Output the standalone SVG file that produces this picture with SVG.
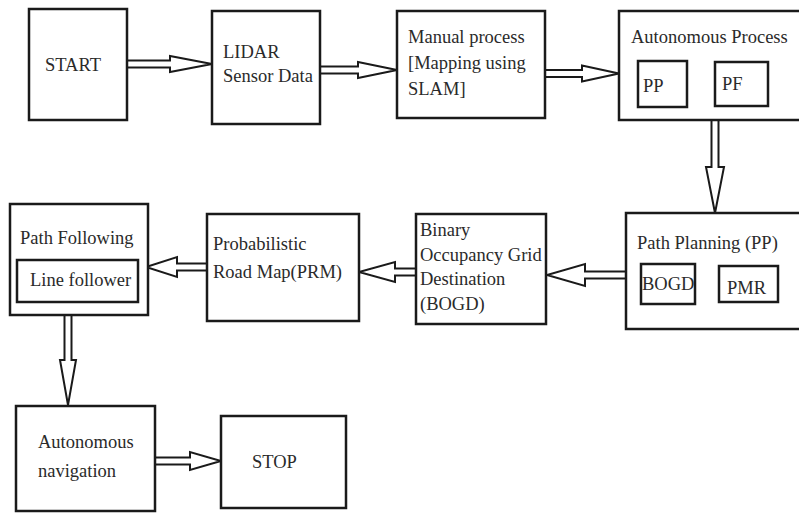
<svg xmlns="http://www.w3.org/2000/svg" width="799" height="513" viewBox="0 0 799 513">
<style>
.box{fill:#fff;stroke:#1a1a1a;stroke-width:2.5}
.t{font-family:"Liberation Serif","Times New Roman",serif;font-size:18.5px;fill:#2a2a2a}
.arr{fill:#fff;stroke:#1a1a1a;stroke-width:2;stroke-linejoin:miter}
</style>
<rect width="799" height="513" fill="#fff"/>
<g id="connectors">
<polygon class="arr" points="127,60.5 170,60.5 170,56 212,64 170,72 170,67.5 127,67.5"/>
<polygon class="arr" points="320,66.5 358,66.5 358,62 397,70 358,78 358,73.5 320,73.5"/>
<polygon class="arr" points="545,70 582,70 582,65.5 619,73.5 582,81.5 582,77 545,77"/>
<polygon class="arr" points="711.5,120 711.5,167 706,167 715,213 724,167 718.5,167 718.5,120"/>
<polygon class="arr" points="626,271.5 585,271.5 585,264 547,275 585,286 585,278.5 626,278.5"/>
<polygon class="arr" points="416,268.5 395,268.5 395,262 359,272 395,282 395,275.5 416,275.5"/>
<polygon class="arr" points="207,263.5 177,263.5 177,257 146,267 177,277 177,270.5 207,270.5"/>
<polygon class="arr" points="64.5,315 64.5,360 60,360 68,405 76,360 71.5,360 71.5,315"/>
<polygon class="arr" points="155,457.5 190,457.5 190,452 221,461 190,470 190,464.5 155,464.5"/>
</g>
<g id="start"><rect class="box" x="29" y="9" width="98" height="111"/><text class="t" x="45" y="71" font-size="19.5">START</text></g>
<g id="lidar"><rect class="box" x="212" y="11" width="108" height="113"/><text class="t" x="223" y="58">LIDAR</text><text class="t" x="223" y="82">Sensor Data</text></g>
<g id="manual"><rect class="box" x="397" y="11" width="148" height="107"/><text class="t" x="408" y="43">Manual process</text><text class="t" x="408" y="69">[Mapping using</text><text class="t" x="408" y="95">SLAM]</text></g>
<g id="autonomous-process"><rect class="box" x="619" y="11" width="182" height="109"/><text class="t" x="631" y="43">Autonomous Process</text>
<g id="pp"><rect class="box" x="638" y="61" width="49" height="46"/><text class="t" x="643" y="92">PP</text></g>
<g id="pf"><rect class="box" x="715" y="62" width="53" height="44"/><text class="t" x="722" y="90">PF</text></g></g>
<g id="path-planning"><rect class="box" x="626" y="213" width="175" height="116"/><text class="t" x="637" y="249">Path Planning (PP)</text>
<g id="bogd-sub"><rect class="box" x="641" y="264" width="54" height="40"/><text class="t" x="642" y="290">BOGD</text></g>
<g id="pmr"><rect class="box" x="719" y="266" width="59" height="36"/><text class="t" x="727" y="294">PMR</text></g></g>
<g id="bogd"><rect class="box" x="416" y="214" width="130" height="110"/><text class="t" x="420" y="236">Binary</text><text class="t" x="420" y="261">Occupancy Grid</text><text class="t" x="420" y="285">Destination</text><text class="t" x="420" y="310">(BOGD)</text></g>
<g id="prm"><rect class="box" x="207" y="214" width="152" height="107"/><text class="t" x="213" y="250">Probabilistic</text><text class="t" x="213" y="278">Road Map(PRM)</text></g>
<g id="path-following"><rect class="box" x="10" y="204" width="138" height="111"/><text class="t" x="20" y="244">Path Following</text>
<g id="line-follower"><rect class="box" x="17" y="260" width="121" height="42"/><text class="t" x="30" y="286">Line follower</text></g></g>
<g id="autonomous-navigation"><rect class="box" x="16" y="406" width="139" height="105"/><text class="t" x="38" y="448">Autonomous</text><text class="t" x="38" y="477">navigation</text></g>
<g id="stop"><rect class="box" x="221" y="416" width="125" height="92"/><text class="t" x="252" y="468" font-size="19.5">STOP</text></g>
</svg>
